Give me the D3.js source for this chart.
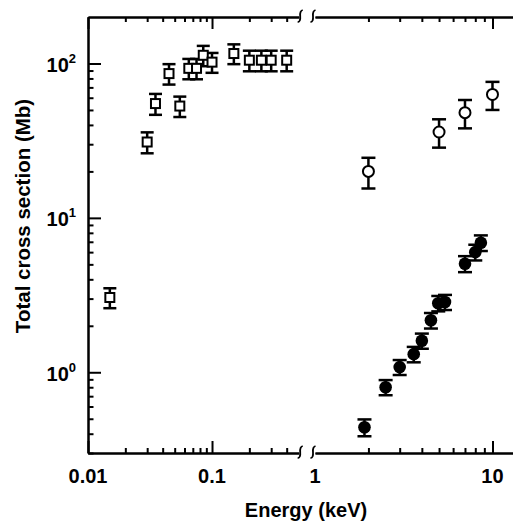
<!DOCTYPE html>
<html>
<head>
<meta charset="utf-8">
<script src="https://cdn.jsdelivr.net/npm/d3@7"></script>
<style>
body { margin: 0; background: #fff; }
text { font-family: "Liberation Sans", Arial, sans-serif; font-weight: bold; fill: #000; }
</style>
</head>
<body>
<div class="chart"></div>
<script>
// open squares, low energy part
const squareEnergy = [0.015, 0.03, 0.035, 0.045, 0.055, 0.065, 0.075, 0.085, 0.1, 0.15, 0.2, 0.25, 0.3, 0.4]
const squareValue = [3.05, 31, 55, 86, 53, 93, 93, 113, 102, 116, 105, 105, 105, 105]
const squareError = [0.45, 4.8, 8.5, 13, 8, 14, 14, 17, 15, 17, 16, 16, 16, 16]

// open circles
const openEnergy = [2, 5, 7, 10]
const openValue = [20, 36, 48, 63]
const openError = [4.5, 7.5, 10, 13]

// filled circles
const filledEnergy = [1.9, 2.5, 3.0, 3.6, 4.0, 4.5, 4.95, 5.4, 7.0, 8.0, 8.6]
const filledValue = [0.44, 0.8, 1.08, 1.31, 1.6, 2.17, 2.8, 2.85, 5.05, 6.0, 6.9]
const filledError = [0.055, 0.09, 0.12, 0.15, 0.18, 0.25, 0.32, 0.32, 0.6, 0.7, 0.8]

// ticks
const lowMajor = [0.01, 0.1]
const lowMinor = [0.02, 0.03, 0.04, 0.05, 0.06, 0.07, 0.08, 0.09, 0.2, 0.3, 0.4]
const highMajor = [10]
const highMinor = [2, 3, 4, 5, 6, 7, 8, 9]
const xLabelValues = [0.01, 0.1, 1, 10]
const xLabelText = ['0.01', '0.1', '1', '10']
const yMajor = [1, 10, 100]
const yMinor = [0.3, 0.4, 0.5, 0.6, 0.7, 0.8, 0.9, 2, 3, 4, 5, 6, 7, 8, 9, 20, 30, 40, 50, 60, 70, 80, 90]
const yLabelExp = [0, 1, 2]

const W = 513
const H = 521
const TOP = 17
const BOTTOM = 453
const LEFT = 88

const svg = d3.select('.chart').append('svg')
	.attr('width', W)
	.attr('height', H)

const y = d3.scaleLog().domain([0.3, 200]).range([BOTTOM, TOP])
const xLow = d3.scaleLog().domain([0.01, 0.5]).range([LEFT, 298.7])
const xHigh = d3.scaleLog().domain([1, 13]).range([315, 512.7])

function xAny(v) {
	return v < 0.7 ? xLow(v) : xHigh(v)
}

function styleAxis(g) {
	g.select('.domain').attr('stroke', '#000').attr('stroke-width', 2)
	g.selectAll('.tick line').attr('stroke', '#000').attr('stroke-width', 2)
	g.selectAll('.tick text').remove()
}

// top and bottom axes, ticks pointing inward
function xAxes(scale, major, minor) {
	;[[TOP, d3.axisTop], [BOTTOM, d3.axisBottom]].forEach(([pos, make]) => {
		svg.append('g')
			.attr('transform', `translate(0,${pos})`)
			.call(make(scale).tickValues(minor).tickSizeInner(-5).tickSizeOuter(0).tickFormat(''))
			.call(styleAxis)
		svg.append('g')
			.attr('transform', `translate(0,${pos})`)
			.call(make(scale).tickValues(major).tickSizeInner(-12).tickSizeOuter(0).tickFormat(''))
			.call(styleAxis)
	})
}

xAxes(xLow, lowMajor, lowMinor)
xAxes(xHigh, highMajor, highMinor)

// axis break marks
const breakX = [xLow.range()[1] + 1.5, xHigh.range()[0] - 2]
;[TOP, BOTTOM].forEach(pos => {
	breakX.forEach(bx => {
		svg.append('path')
			.attr('d', `M${bx + 2.5},${pos - 7} Q${bx - 0.5},${pos - 6} ${bx},${pos - 1} Q${bx + 0.5},${pos + 5} ${bx - 2.5},${pos + 5}`)
			.attr('fill', 'none')
			.attr('stroke', '#000')
			.attr('stroke-width', 1.8)
	})
})

// y axis
svg.append('g')
	.attr('transform', `translate(${LEFT},0)`)
	.call(d3.axisLeft(y).tickValues(yMinor).tickSizeInner(-5.5).tickSizeOuter(0).tickFormat(''))
	.call(styleAxis)
svg.append('g')
	.attr('transform', `translate(${LEFT},0)`)
	.call(d3.axisLeft(y).tickValues(yMajor).tickSizeInner(-13).tickSizeOuter(0).tickFormat(''))
	.call(styleAxis)

// tick labels
svg.append('g').selectAll('text')
	.data(xLabelValues)
	.join('text')
	.attr('x', d => xAny(d))
	.attr('y', 483)
	.attr('text-anchor', 'middle')
	.style('font-size', '20px')
	.text((d, i) => xLabelText[i])

const yLab = svg.append('g').selectAll('text')
	.data(yMajor)
	.join('text')
	.attr('x', 76)
	.attr('y', d => y(d) + 8.5)
	.attr('text-anchor', 'end')
	.style('font-size', '20px')
yLab.append('tspan').text('10')
yLab.append('tspan')
	.attr('dy', -9)
	.style('font-size', '13px')
	.text((d, i) => yLabelExp[i])

svg.append('text')
	.attr('x', 306)
	.attr('y', 516.5)
	.attr('text-anchor', 'middle')
	.style('font-size', '20px')
	.text('Energy (keV)')

svg.append('text')
	.attr('transform', 'translate(30,216) rotate(-90)')
	.attr('text-anchor', 'middle')
	.style('font-size', '20.5px')
	.text('Total cross section (Mb)')

// data
function rows(es, vs, errs) {
	return es.map((e, i) => ({ e, v: vs[i], err: errs[i] }))
}

function errorBars(data, capW) {
	const g = svg.append('g')
		.attr('stroke', '#000')
		.attr('stroke-width', 2.5)
	data.forEach(d => {
		const cx = xAny(d.e)
		const y0 = y(d.v - d.err)
		const y1 = y(d.v + d.err)
		g.append('line').attr('x1', cx).attr('x2', cx).attr('y1', y0).attr('y2', y1)
		g.append('line').attr('x1', cx - capW / 2).attr('x2', cx + capW / 2).attr('y1', y0).attr('y2', y0)
		g.append('line').attr('x1', cx - capW / 2).attr('x2', cx + capW / 2).attr('y1', y1).attr('y2', y1)
	})
}

const squares = rows(squareEnergy, squareValue, squareError)
const opens = rows(openEnergy, openValue, openError)
const filled = rows(filledEnergy, filledValue, filledError)

errorBars(squares, 13)
svg.append('g').selectAll('rect')
	.data(squares)
	.join('rect')
	.attr('x', d => xAny(d.e) - 4.5)
	.attr('y', d => y(d.v) - 4.5)
	.attr('width', 9)
	.attr('height', 9)
	.attr('fill', '#fff')
	.attr('stroke', '#000')
	.attr('stroke-width', 2)

errorBars(opens, 14)
svg.append('g').selectAll('circle')
	.data(opens)
	.join('circle')
	.attr('cx', d => xAny(d.e))
	.attr('cy', d => y(d.v))
	.attr('r', 5.5)
	.attr('fill', '#fff')
	.attr('stroke', '#000')
	.attr('stroke-width', 2)

errorBars(filled, 14)
svg.append('g').selectAll('circle')
	.data(filled)
	.join('circle')
	.attr('cx', d => xAny(d.e))
	.attr('cy', d => y(d.v))
	.attr('r', 6.3)
	.attr('fill', '#000')
</script>
</body>
</html>
